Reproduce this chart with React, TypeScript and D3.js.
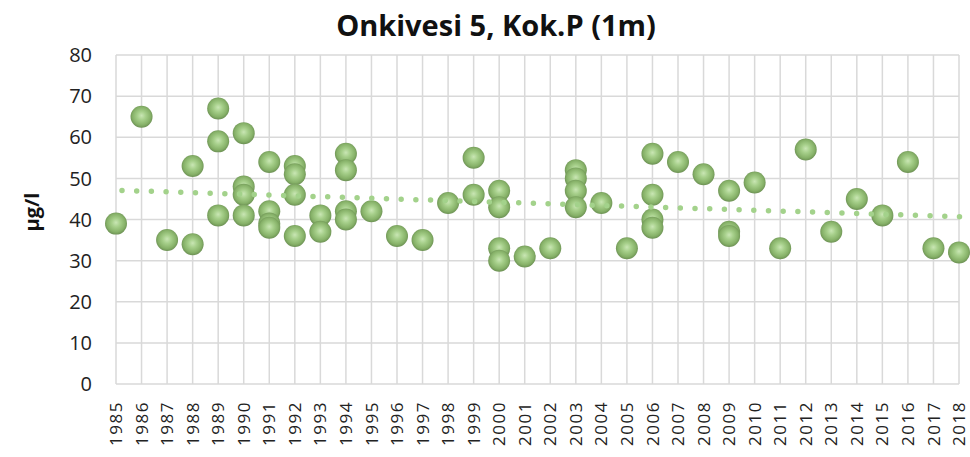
import React from "react";
import * as d3 from "d3";

const years: number[] = d3.range(1985, 2019);

// measured values (µg/l) per sampling year
const sampleYears: number[] = [
  1985, 1986, 1987, 1988, 1988, 1989, 1989, 1989, 1990, 1990, 1990, 1990,
  1991, 1991, 1991, 1991, 1992, 1992, 1992, 1992, 1993, 1993, 1994, 1994,
  1994, 1994, 1995, 1996, 1997, 1998, 1999, 1999, 2000, 2000, 2000, 2000,
  2001, 2002, 2003, 2003, 2003, 2003, 2004, 2005, 2006, 2006, 2006, 2006,
  2007, 2008, 2009, 2009, 2009, 2010, 2011, 2012, 2013, 2014, 2015, 2016,
  2017, 2018,
];
const sampleValues: number[] = [
  39, 65, 35, 53, 34, 67, 59, 41, 61, 48, 46, 41,
  54, 42, 39, 38, 53, 51, 46, 36, 41, 37, 56, 52,
  42, 40, 42, 36, 35, 44, 55, 46, 47, 43, 33, 30,
  31, 33, 52, 50, 47, 43, 44, 33, 56, 46, 40, 38,
  54, 51, 47, 37, 36, 49, 33, 57, 37, 45, 41, 54,
  33, 32,
];
const yTicks: number[] = [0, 10, 20, 30, 40, 50, 60, 70, 80];

const W = 970;
const H = 457;
const left = 116;
const right = 959;
const top = 55;
const bottom = 384;
const FONT = "'Open Sans', 'Liberation Sans', sans-serif";

export default function App() {
  const x = d3.scaleLinear().domain([1985, 2018]).range([left, right]);
  const y = d3.scaleLinear().domain([0, 80]).range([bottom, top]);

  // least-squares linear trend
  const mx = d3.mean(sampleYears)!;
  const my = d3.mean(sampleValues)!;
  let sxy = 0;
  let sxx = 0;
  sampleYears.forEach((yr, i) => {
    sxy += (yr - mx) * (sampleValues[i] - my);
    sxx += (yr - mx) * (yr - mx);
  });
  const slope = sxy / sxx;
  const icpt = my - slope * mx;
  const trend = d3
    .line<number>()
    .x((d) => x(d))
    .y((d) => y(icpt + slope * d));

  const pts = sampleYears.map((yr, i) => ({ yr, v: sampleValues[i] }));

  return (
    <svg
      width={W}
      height={H}
      style={{ position: "absolute", left: 0, top: 0, background: "#fff" }}
    >
      <defs>
        <radialGradient id="ball" cx="50%" cy="48%" r="55%" fx="50%" fy="45%">
          <stop offset="0%" stopColor="#c9e6b4" />
          <stop offset="35%" stopColor="#a6cf8a" />
          <stop offset="75%" stopColor="#86b168" />
          <stop offset="100%" stopColor="#66894f" />
        </radialGradient>
      </defs>
      {/* title */}
      <text
        x={496}
        y={36}
        textAnchor="middle"
        fontFamily={FONT}
        fontWeight="bold"
        fontSize={29}
        fill="#111"
      >
        Onkivesi 5, Kok.P (1m)
      </text>
      {/* gridlines */}
      {yTicks.map((t) => (
        <line
          key={"h" + t}
          x1={left}
          x2={right}
          y1={y(t)}
          y2={y(t)}
          stroke="#d9d9d9"
          strokeWidth={1.5}
        />
      ))}
      {years.map((yr) => (
        <line
          key={"v" + yr}
          x1={x(yr)}
          x2={x(yr)}
          y1={top}
          y2={bottom}
          stroke="#d9d9d9"
          strokeWidth={1.5}
        />
      ))}
      {/* y tick labels */}
      {yTicks.map((t) => (
        <text
          key={"yt" + t}
          x={92}
          y={y(t)}
          dy="0.36em"
          textAnchor="end"
          fontFamily={FONT}
          fontSize={20}
          fill="#222"
        >
          {t}
        </text>
      ))}
      {/* x tick labels */}
      {years.map((yr) => (
        <text
          key={"xt" + yr}
          transform={`translate(${x(yr)},${401}) rotate(-90)`}
          dy="0.36em"
          textAnchor="end"
          fontFamily={FONT}
          fontSize={17}
          letterSpacing={1.5}
          fill="#222"
        >
          {yr}
        </text>
      ))}
      {/* y axis title */}
      <text
        transform={`translate(32,212) rotate(-90)`}
        dy="0.36em"
        textAnchor="middle"
        fontFamily={FONT}
        fontWeight="bold"
        fontSize={20}
        fill="#111"
      >
        µg/l
      </text>
      {/* points */}
      {pts.map((p, i) => (
        <circle
          key={"p" + i}
          cx={x(p.yr)}
          cy={y(p.v)}
          r={11}
          fill="url(#ball)"
        />
      ))}
      {/* trend line */}
      <path
        d={trend([1985, 2018]) || ""}
        fill="none"
        stroke="#a3d28b"
        strokeWidth={5.5}
        strokeLinecap="round"
        strokeDasharray="0 14.7"
        transform="translate(6,0)"
      />
    </svg>
  );
}
